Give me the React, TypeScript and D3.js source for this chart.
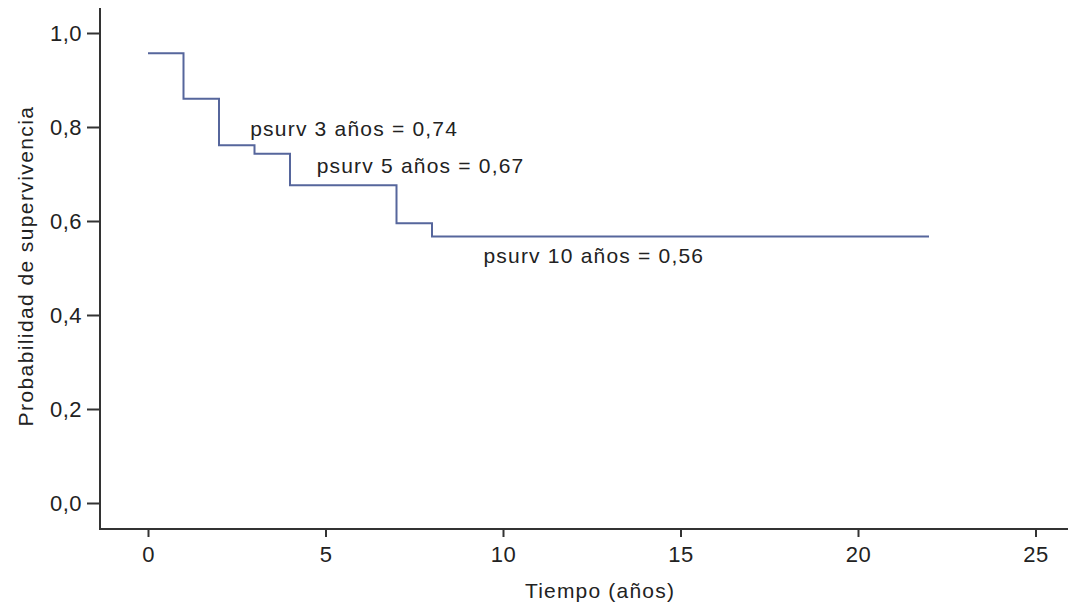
import * as d3 from "d3";
import React, { Component } from "react";

// Kaplan-Meier steps: time (años) and survival probability after each step
const times = [0, 1, 2, 3, 4, 7, 8];
const survival = [0.957, 0.86, 0.761, 0.743, 0.676, 0.595, 0.567];
const lastTime = 22;

const xTicks = [0, 5, 10, 15, 20, 25];
const yTicks = [0, 0.2, 0.4, 0.6, 0.8, 1.0];

const noteLabels = [
  "psurv 3 años = 0,74",
  "psurv 5 años = 0,67",
  "psurv 10 años = 0,56",
];
const noteTimes = [2.88, 4.75, 9.45];
const noteValues = [0.781, 0.702, 0.511];

const FONT = "'Liberation Sans', Arial, sans-serif";

export default class App extends Component {
  chartRef: any;

  componentDidMount(): void {
    const width = 1071;
    const height = 605;

    const svg = d3
      .select(this.chartRef)
      .attr("width", width)
      .attr("height", height)
      .style("position", "absolute")
      .style("left", 0)
      .style("top", 0)
      .style("background", "#fff");

    const x = d3.scaleLinear().domain([0, 25]).range([148, 1035.5]);
    const y = d3.scaleLinear().domain([0, 1]).range([503, 33]);

    const axisY = 529;
    const axisX = 100;

    // axis lines
    svg
      .append("line")
      .attr("x1", axisX)
      .attr("x2", axisX)
      .attr("y1", 8)
      .attr("y2", axisY)
      .attr("stroke", "#333")
      .attr("stroke-width", 2);
    svg
      .append("line")
      .attr("x1", axisX - 1)
      .attr("x2", 1068)
      .attr("y1", axisY)
      .attr("y2", axisY)
      .attr("stroke", "#333")
      .attr("stroke-width", 2);

    const xAxis = d3
      .axisBottom(x)
      .tickValues(xTicks)
      .tickSize(8)
      .tickPadding(9)
      .tickFormat((d: any) => String(d));
    const gx = svg
      .append("g")
      .attr("transform", `translate(0, ${axisY})`)
      .call(xAxis);
    gx.select(".domain").remove();

    const yAxis = d3
      .axisLeft(y)
      .tickValues(yTicks)
      .tickSize(13)
      .tickPadding(5)
      .tickFormat((d: any) => d3.format(".1f")(d).replace(".", ","));
    const gy = svg
      .append("g")
      .attr("transform", `translate(${axisX}, 0)`)
      .call(yAxis);
    gy.select(".domain").remove();

    svg
      .selectAll(".tick line")
      .attr("stroke", "#333")
      .attr("stroke-width", 2);
    svg
      .selectAll(".tick text")
      .attr("fill", "#222")
      .style("font-family", FONT)
      .style("font-size", "22px")
      .style("letter-spacing", "0.5px");

    // survival curve
    const pts: [number, number][] = times.map((t, i) => [t, survival[i]]);
    pts.push([lastTime, survival[survival.length - 1]]);
    const line = d3
      .line<[number, number]>()
      .x((d) => x(d[0]))
      .y((d) => y(d[1]))
      .curve(d3.curveStepAfter);
    svg
      .append("path")
      .attr("d", line(pts))
      .attr("fill", "none")
      .attr("stroke", "#56669c")
      .attr("stroke-width", 2);

    // annotations
    svg
      .selectAll("text.note")
      .data(noteLabels)
      .enter()
      .append("text")
      .attr("class", "note")
      .attr("x", (d, i) => x(noteTimes[i]))
      .attr("y", (d, i) => y(noteValues[i]))
      .text((d) => d)
      .attr("fill", "#222")
      .style("font-family", FONT)
      .style("font-size", "21px")
      .style("letter-spacing", "1.2px");

    // axis titles
    svg
      .append("text")
      .text("Tiempo (años)")
      .attr("x", 600)
      .attr("y", 598)
      .attr("text-anchor", "middle")
      .attr("fill", "#222")
      .style("font-family", FONT)
      .style("font-size", "21px")
      .style("letter-spacing", "1.2px");
    svg
      .append("text")
      .text("Probabilidad de supervivencia")
      .attr("text-anchor", "middle")
      .attr("transform", `translate(33, 266) rotate(-90)`)
      .attr("fill", "#222")
      .style("font-family", FONT)
      .style("font-size", "21px")
      .style("letter-spacing", "1.4px");
  }

  render() {
    return (
      <div>
        <svg ref={(r) => (this.chartRef = r)}></svg>
      </div>
    );
  }
}
